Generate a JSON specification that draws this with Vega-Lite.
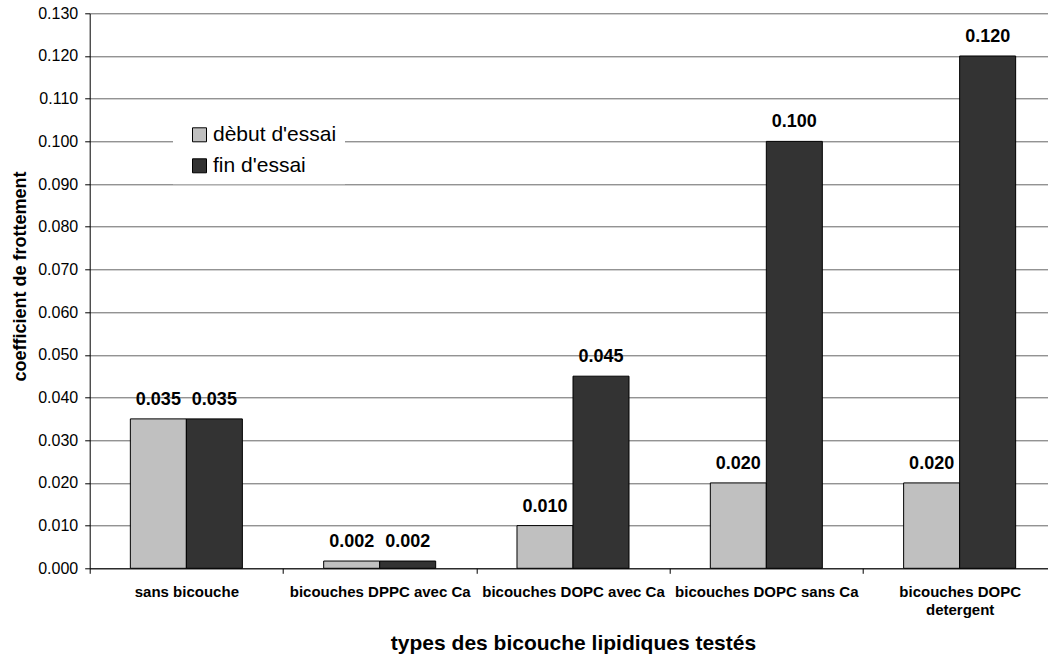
{
  "$schema": "https://vega.github.io/schema/vega-lite/v6.json",
  "width": 958.3,
  "height": 555,
  "autosize": {"type": "none"},
  "padding": {"left": 89.7, "top": 13.3, "right": 0, "bottom": 88.7},
  "background": "white",
  "config": {"font": "Liberation Sans", "view": {"stroke": null}},
  "data": {
    "values": [
      {"type": "sans bicouche", "phase": "dèbut d'essai", "value": 0.035},
      {"type": "sans bicouche", "phase": "fin d'essai", "value": 0.035},
      {"type": "bicouches DPPC avec Ca", "phase": "dèbut d'essai", "value": 0.0017},
      {"type": "bicouches DPPC avec Ca", "phase": "fin d'essai", "value": 0.0017},
      {"type": "bicouches DOPC avec Ca", "phase": "dèbut d'essai", "value": 0.010},
      {"type": "bicouches DOPC avec Ca", "phase": "fin d'essai", "value": 0.045},
      {"type": "bicouches DOPC sans Ca", "phase": "dèbut d'essai", "value": 0.020},
      {"type": "bicouches DOPC sans Ca", "phase": "fin d'essai", "value": 0.100},
      {"type": "bicouches DOPC detergent", "phase": "dèbut d'essai", "value": 0.020},
      {"type": "bicouches DOPC detergent", "phase": "fin d'essai", "value": 0.120}
    ]
  },
  "encoding": {
    "x": {
      "field": "type",
      "type": "nominal",
      "sort": ["sans bicouche", "bicouches DPPC avec Ca", "bicouches DOPC avec Ca", "bicouches DOPC sans Ca", "bicouches DOPC detergent"],
      "scale": {"range": [0, 966.6], "paddingInner": 0, "paddingOuter": 0},
      "axis": {
        "title": "types des bicouche lipidiques testés",
        "titleFontSize": 21,
        "titleFontWeight": "bold",
        "titleColor": "black",
        "titleX": 483.3,
        "titleY": 81,
        "titleAlign": "center",
        "titleBaseline": "alphabetic",
        "labelAngle": 0,
        "labelFontSize": 15,
        "labelFontWeight": "bold",
        "labelColor": "black",
        "labelPadding": 11,
        "labelBaseline": "top",
        "labelLineHeight": 18,
        "labelLimit": 0,
        "labelOverlap": false,
        "labelExpr": "datum.value == 'bicouches DOPC detergent' ? ['bicouches DOPC', 'detergent'] : datum.value",
        "tickSize": 5,
        "tickColor": "black",
        "tickBand": "extent",
        "domainColor": "black",
        "grid": false
      }
    },
    "xOffset": {
      "field": "phase",
      "type": "nominal",
      "sort": ["dèbut d'essai", "fin d'essai"],
      "scale": {"paddingInner": 0, "paddingOuter": 0.726}
    },
    "y": {
      "field": "value",
      "type": "quantitative",
      "scale": {"domain": [0, 0.13], "nice": false},
      "axis": {
        "values": [0, 0.01, 0.02, 0.03, 0.04, 0.05, 0.06, 0.07, 0.08, 0.09, 0.1, 0.11, 0.12, 0.13],
        "format": ".3f",
        "labelFontSize": 16,
        "labelColor": "black",
        "labelPadding": 7,
        "tickSize": 5,
        "tickColor": "black",
        "domainColor": "black",
        "grid": true,
        "gridColor": "#666666",
        "gridWidth": 1,
        "title": "coefficient de frottement",
        "titleFontSize": 18,
        "titleFontWeight": "bold",
        "titleColor": "black",
        "titleAngle": 270,
        "titleX": -64.7,
        "titleY": 262.7,
        "titleAlign": "center",
        "titleBaseline": "alphabetic"
      }
    }
  },
  "layer": [
    {
      "mark": {"type": "bar", "stroke": "black", "strokeWidth": 1, "opacity": 1},
      "encoding": {
        "color": {
          "field": "phase",
          "type": "nominal",
          "sort": ["dèbut d'essai", "fin d'essai"],
          "scale": {"domain": ["dèbut d'essai", "fin d'essai"], "range": ["#C0C0C0", "#333333"]},
          "legend": {
            "title": null,
            "orient": "none",
            "legendX": 83.3,
            "legendY": 103,
            "fillColor": "white",
            "padding": 8,
            "symbolType": "square",
            "symbolSize": 196,
            "symbolStrokeColor": "black",
            "symbolStrokeWidth": 1,
            "symbolOpacity": 1,
            "symbolOffset": 8,
            "labelFontSize": 21,
            "labelColor": "black",
            "labelOffset": 3,
            "labelLimit": 0,
            "rowPadding": 9
          }
        }
      }
    },
    {
      "mark": {"type": "text", "dy": -14, "baseline": "alphabetic", "fontSize": 18, "fontWeight": "bold", "color": "black"},
      "encoding": {
        "text": {"field": "value", "type": "quantitative", "format": ".3f"}
      }
    }
  ]
}
